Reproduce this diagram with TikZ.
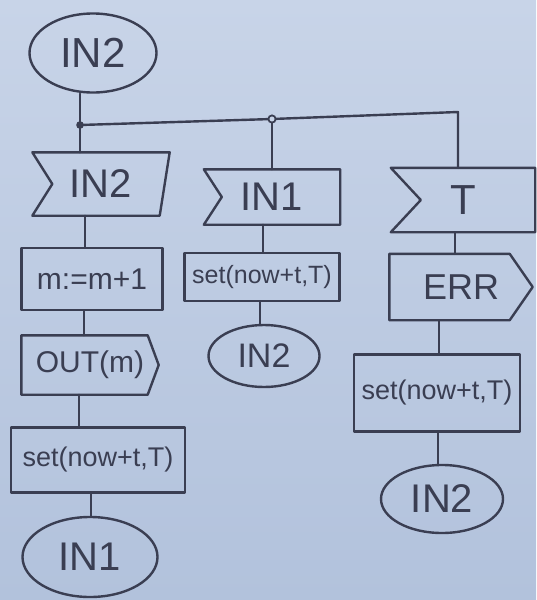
\documentclass[tikz,border=0pt]{standalone}
\usepackage{fontspec}
\setmainfont{Liberation Sans}
\usetikzlibrary{shapes.geometric}
\definecolor{bgtop}{RGB}{200,212,232}
\definecolor{bgbot}{RGB}{178,194,220}
\definecolor{ink}{RGB}{58,62,82}
\newcommand\fsz[1]{\fontsize{#1}{#1}\selectfont}
\begin{document}
\begin{tikzpicture}[x=1pt,y=1pt,
  ln/.style={draw=ink, line width=2.4pt, line join=round, line cap=round},
  state/.style={ellipse, ln, inner sep=0pt, text=ink},
  task/.style={rectangle, ln, inner sep=0pt, text=ink},
  sig/.style={rectangle, inner sep=0pt, text=ink}
]
\shade[top color=bgtop, bottom color=bgbot] (0,0) rectangle (536,-600);
\useasboundingbox (0,0) rectangle (536,-600);

% column helper coordinates
\coordinate (xa) at (85,0);
\coordinate (xb) at (84,0);
\coordinate (xc) at (79,0);
\coordinate (xd) at (91,0);
\coordinate (xe) at (263,0);
\coordinate (xf) at (260,0);
\coordinate (xg) at (455,0);
\coordinate (xh) at (439,0);
\coordinate (xi) at (438,0);

% start state
\node[state, minimum width=127pt, minimum height=79pt, font=\fsz{42}] (s0) at (93,-53) {IN2};

% inputs
\node[sig, minimum width=137pt, minimum height=63pt, font=\fsz{40}] (i2) at (101,-184) {IN2};
\draw[ln] (i2.north west) -- (i2.north east) -- ([xshift=-10pt]i2.south east) -- (i2.south west) -- ([xshift=20pt]i2.west) -- cycle;

\node[sig, minimum width=136pt, minimum height=55pt, font=\fsz{40}] (i1) at (272,-197) {IN1};
\draw[ln] (i1.north west) -- (i1.north east) -- (i1.south east) -- (i1.south west) -- ([xshift=18pt]i1.west) -- cycle;

\node[sig, minimum width=144pt, minimum height=64pt, font=\fsz{42}] (iT) at (463,-200) {T};
\draw[ln] (iT.north west) -- (iT.north east) -- (iT.south east) -- (iT.south west) -- ([xshift=30pt]iT.west) -- cycle;

% left column
\node[task, minimum width=141pt, minimum height=62pt, font=\fsz{30}] (t1) at (92,-279) {m:=m+1};
\node[sig, minimum width=137pt, minimum height=59pt, font=\fsz{30}] (o1) at (90,-365) {OUT(m)};
\draw[ln] (o1.north west) -- ([xshift=-11pt]o1.north east) -- (o1.east) -- ([xshift=-11pt]o1.south east) -- (o1.south west) -- cycle;
\node[task, minimum width=174pt, minimum height=65pt, font=\fsz{27}] (t2) at (98,-460) {set(now+t,T)};
\node[state, minimum width=135pt, minimum height=80pt, font=\fsz{40}] (s1) at (90,-557) {IN1};

% middle column
\node[task, minimum width=155pt, minimum height=48pt, font=\fsz{25}] (t3) at (262,-277) {set(now+t,T)};
\node[state, minimum width=111pt, minimum height=62pt, font=\fsz{34}] (s2) at (264,-356) {IN2};

% right column
\node[sig, minimum width=143pt, minimum height=66pt, font=\fsz{36}] (o2) at (461,-287) {ERR};
\draw[ln] (o2.north west) -- ([xshift=-23pt]o2.north east) -- (o2.east) -- ([xshift=-23pt]o2.south east) -- (o2.south west) -- cycle;
\node[task, minimum width=166pt, minimum height=77pt, font=\fsz{27}] (t4) at (437,-393) {set(now+t,T)};
\node[state, minimum width=122pt, minimum height=68pt, font=\fsz{40}] (s3) at (442,-499) {IN2};

% branching bus
\coordinate (j0) at (80,-125);
\coordinate (j1) at (272,-119);
\coordinate (c1) at (458,-112);
\draw[ln] (s0.south -| j0) -- (i2.north -| j0);
\draw[ln] (j0) -- (j1) -- (c1) -- (iT.north -| c1);
\draw[ln] (j1) -- (i1.north -| j1);
\fill[ink] (j0) circle (3.8pt);
\draw[draw=ink, line width=1.8pt, fill=bgtop] (j1) circle (3.6pt);

% flow lines
\draw[ln] (i2.south -| xa) -- (t1.north -| xa);
\draw[ln] (t1.south -| xb) -- (o1.north -| xb);
\draw[ln] (o1.south -| xc) -- (t2.north -| xc);
\draw[ln] (t2.south -| xd) -- (s1.north -| xd);
\draw[ln] (i1.south -| xe) -- (t3.north -| xe);
\draw[ln] (t3.south -| xf) -- (s2.north -| xf);
\draw[ln] (iT.south -| xg) -- (o2.north -| xg);
\draw[ln] (o2.south -| xh) -- (t4.north -| xh);
\draw[ln] (t4.south -| xi) -- (s3.north -| xi);
\end{tikzpicture}
\end{document}
